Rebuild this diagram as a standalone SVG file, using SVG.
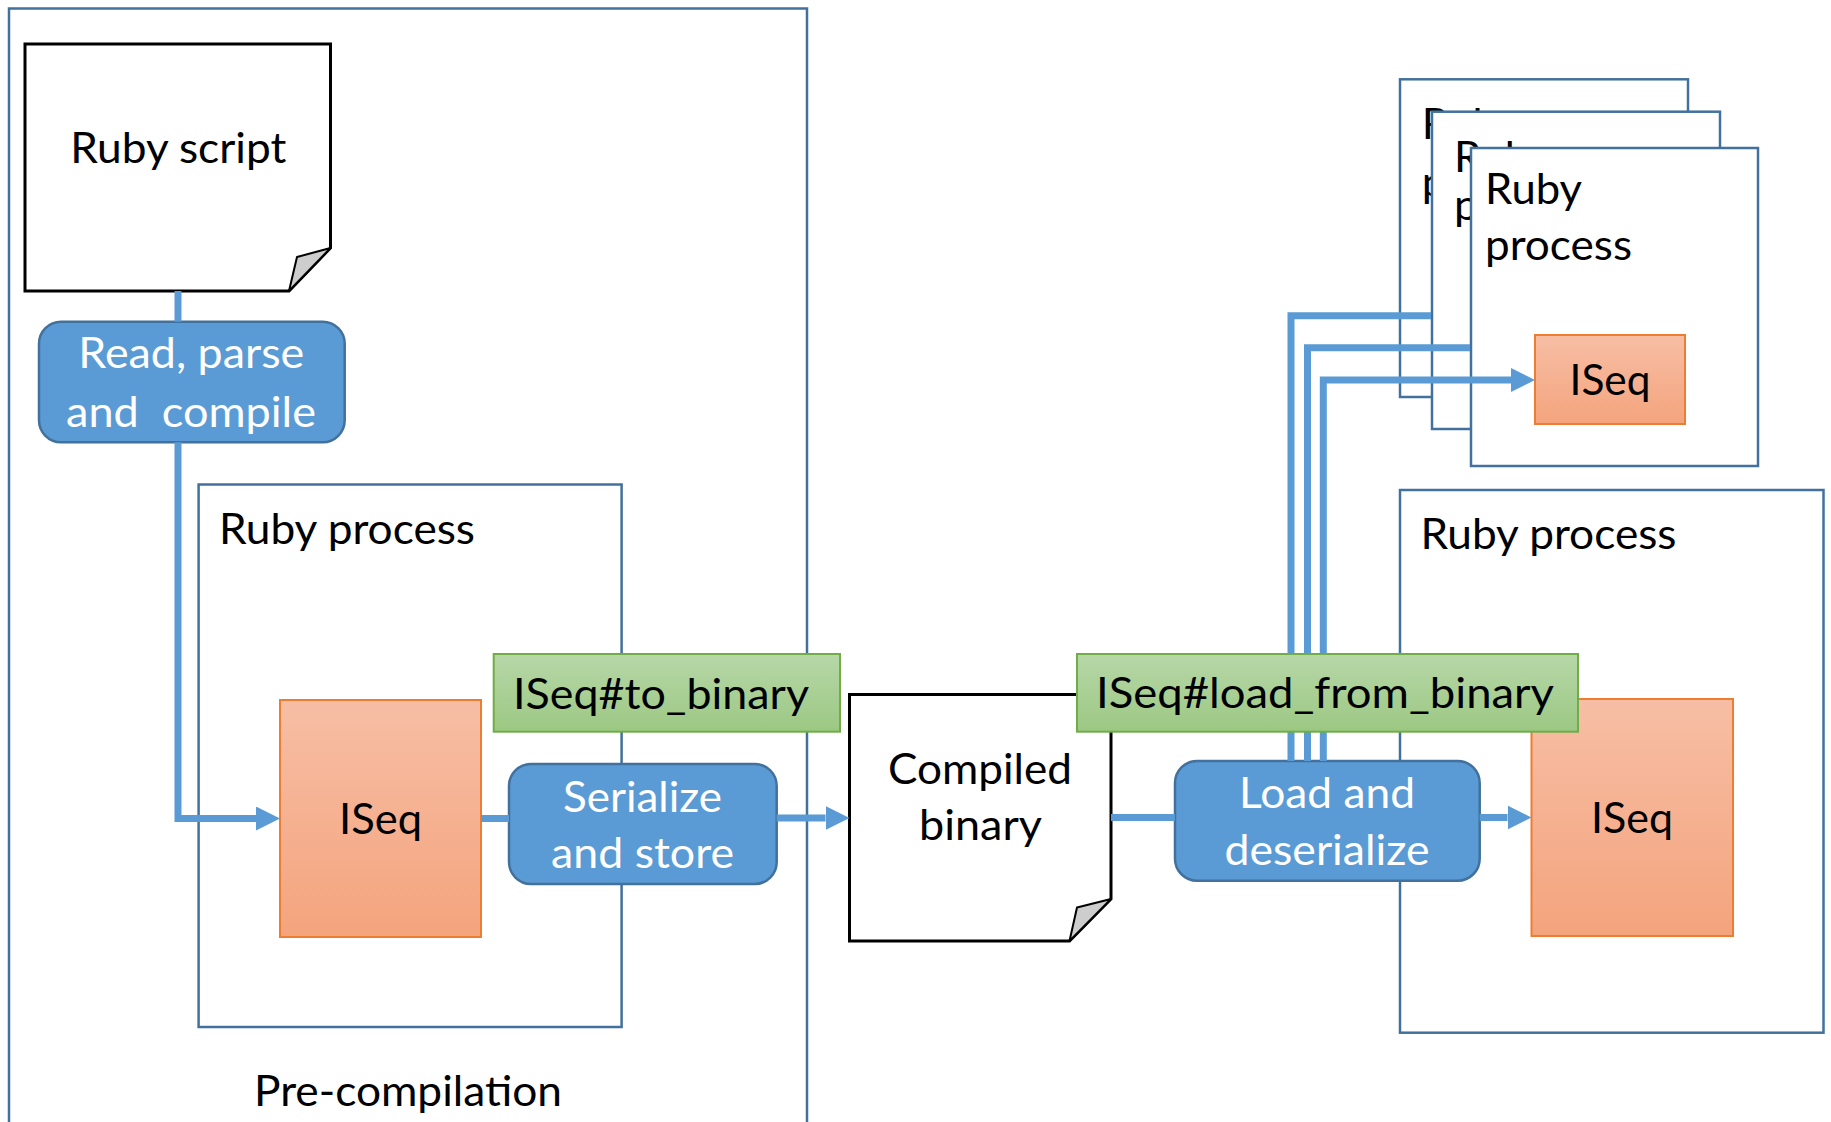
<svg xmlns="http://www.w3.org/2000/svg" width="1831" height="1122" viewBox="0 0 1831 1122">
<style>
.t{font-family:Lato,"Liberation Sans",sans-serif;font-size:43px;fill:#000}
.w{fill:#fff}
.m{text-anchor:middle}
.pbox{fill:#fff;stroke:#41719C;stroke-width:2.5}
.bbox{fill:#5B9BD5;stroke:#41719C;stroke-width:2.5}
.iseq{fill:url(#og);stroke:#ED7D31;stroke-width:2}
.lbl{fill:url(#gg);stroke:#70AD47;stroke-width:2}
.doc{fill:#fff;stroke:#000;stroke-width:3;stroke-linejoin:miter}
.fold{fill:#CDCDCD;stroke:#000;stroke-width:2;stroke-linejoin:round}
.conn{fill:none;stroke:#5B9BD5;stroke-width:7;stroke-linejoin:miter}
</style>
<defs>
<linearGradient id="og" x1="0" y1="0" x2="0" y2="1"><stop offset="0" stop-color="#F7BEA5"/><stop offset="1" stop-color="#F4A47D"/></linearGradient>
<linearGradient id="gg" x1="0" y1="0" x2="0" y2="1"><stop offset="0" stop-color="#B7D7A8"/><stop offset="1" stop-color="#9CC883"/></linearGradient>
<marker id="arr" markerUnits="userSpaceOnUse" viewBox="0 0 24 24" markerWidth="24" markerHeight="24" refX="0" refY="12" orient="auto"><path d="M0,0 L24,12 L0,24 Z" fill="#5B9BD5"/></marker>
<clipPath id="clipBack"><path d="M1401,80 H1687 V111.7 H1432 V396 H1401 Z"/></clipPath>
<clipPath id="clipMid"><path d="M1433,112.5 H1719 V148 H1471 V428 H1433 Z"/></clipPath>
</defs>
<rect width="1831" height="1122" fill="#fff"/>

<g id="precompilation">
<rect x="9" y="8.5" width="798" height="1130" fill="none" stroke="#41719C" stroke-width="2.5"/>
<text class="t m" x="408" y="1106" textLength="308" lengthAdjust="spacingAndGlyphs">Pre-compilation</text>
</g>

<g id="ruby-script">
<path class="doc" d="M25,44 H330.5 V248 L289,291 H25 Z"/>
<path class="fold" d="M330.5,248 L297,257 L289,291 Z"/>
<text class="t m" x="178.3" y="163" textLength="216" lengthAdjust="spacingAndGlyphs">Ruby script</text>
</g>

<g id="read-parse-compile">
<rect class="bbox" x="39" y="321.7" width="305.7" height="120.6" rx="22"/>
<text class="t w m" x="191.3" y="368" textLength="226" lengthAdjust="spacingAndGlyphs">Read, parse</text>
<text class="t w m" x="191" y="427" textLength="250" lengthAdjust="spacingAndGlyphs" xml:space="preserve">and  compile</text>
</g>

<g id="ruby-process-left">
<rect class="pbox" x="198.6" y="484.5" width="423" height="542.5"/>
<text class="t" x="219" y="544" textLength="256" lengthAdjust="spacingAndGlyphs">Ruby process</text>
</g>

<g id="iseq-left">
<rect class="iseq" x="280" y="700" width="201" height="237"/>
<text class="t m" x="380.5" y="833.6" textLength="83" lengthAdjust="spacingAndGlyphs">ISeq</text>
</g>

<g id="serialize-store">
<rect class="bbox" x="509" y="764" width="267.7" height="120" rx="22"/>
<text class="t w m" x="642.5" y="812" textLength="159" lengthAdjust="spacingAndGlyphs">Serialize</text>
<text class="t w m" x="642.6" y="868" textLength="183" lengthAdjust="spacingAndGlyphs">and store</text>
</g>

<g id="compiled-binary">
<path class="doc" d="M849.5,694.5 H1111 V899 L1069.5,941 H849.5 Z"/>
<path class="fold" d="M1111,899 L1077,907.5 L1069.5,941 Z"/>
<text class="t m" x="980" y="784" textLength="184" lengthAdjust="spacingAndGlyphs">Compiled</text>
<text class="t m" x="980.5" y="840" textLength="123" lengthAdjust="spacingAndGlyphs">binary</text>
</g>

<g id="ruby-process-right">
<rect class="pbox" x="1400" y="490" width="423.5" height="542.7"/>
<text class="t" x="1420.5" y="549.3" textLength="256" lengthAdjust="spacingAndGlyphs">Ruby process</text>
</g>

<g id="iseq-right">
<rect class="iseq" x="1531.5" y="699" width="201.5" height="237"/>
<text class="t m" x="1632" y="833" textLength="82" lengthAdjust="spacingAndGlyphs">ISeq</text>
</g>

<g id="load-deserialize">
<rect class="bbox" x="1175" y="761" width="304.7" height="119.7" rx="22"/>
<text class="t w m" x="1327" y="808" textLength="176" lengthAdjust="spacingAndGlyphs">Load and</text>
<text class="t w m" x="1327" y="865" textLength="205" lengthAdjust="spacingAndGlyphs">deserialize</text>
</g>

<g id="ruby-process-back">
<rect class="pbox" x="1400" y="79.3" width="288" height="317.7"/>
<g clip-path="url(#clipBack)">
<text class="t" x="1421.7" y="139" textLength="97" lengthAdjust="spacingAndGlyphs">Ruby</text>
<text class="t" x="1421.7" y="197" textLength="147" lengthAdjust="spacingAndGlyphs">process</text>
</g>
</g>

<g id="ruby-process-middle">
<rect class="pbox" x="1432" y="111.7" width="288" height="317.3"/>
<g clip-path="url(#clipMid)">
<text class="t" x="1454" y="171.5" textLength="97" lengthAdjust="spacingAndGlyphs">Ruby</text>
<text class="t" x="1454" y="220" textLength="147" lengthAdjust="spacingAndGlyphs">process</text>
</g>
</g>

<g id="ruby-process-front">
<rect class="pbox" x="1471" y="148" width="287" height="318"/>
<text class="t" x="1485" y="204" textLength="97" lengthAdjust="spacingAndGlyphs">Ruby</text>
<text class="t" x="1485" y="260" textLength="147" lengthAdjust="spacingAndGlyphs">process</text>
</g>

<g id="iseq-front">
<rect class="iseq" x="1535" y="335" width="150" height="89"/>
<text class="t m" x="1610" y="395" textLength="81" lengthAdjust="spacingAndGlyphs">ISeq</text>
</g>

<g id="connectors">
<path class="conn" d="M178,291 V321.7"/>
<path class="conn" d="M178,442.3 V818.5 H256" marker-end="url(#arr)"/>
<path class="conn" d="M481,818.5 H509"/>
<path class="conn" d="M776.7,818 H825.5" marker-end="url(#arr)"/>
<path class="conn" d="M1111,817.5 H1175"/>
<path class="conn" d="M1479.7,817.5 H1507.5" marker-end="url(#arr)"/>
<path class="conn" d="M1291,761 V315.7 H1431"/>
<path class="conn" d="M1307.5,761 V347.7 H1470"/>
<path class="conn" d="M1323.3,761 V380 H1511" marker-end="url(#arr)"/>
</g>

<g id="label-to-binary">
<rect class="lbl" x="493.7" y="654" width="346.3" height="77.7"/>
<text class="t m" x="661" y="708.5" textLength="296" lengthAdjust="spacingAndGlyphs">ISeq#to_binary</text>
</g>

<g id="label-load-from-binary">
<rect class="lbl" x="1077" y="654" width="501" height="77.7"/>
<text class="t m" x="1325" y="708" textLength="458" lengthAdjust="spacingAndGlyphs">ISeq#load_from_binary</text>
</g>
</svg>
